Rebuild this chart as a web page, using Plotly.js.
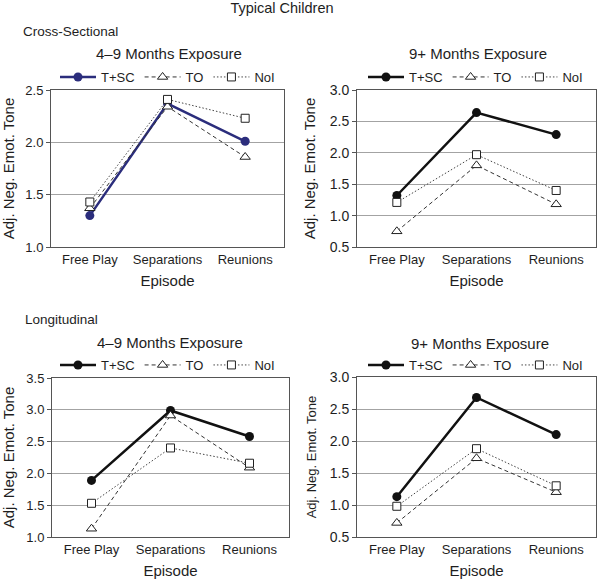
<!DOCTYPE html>
<html>
<head>
<meta charset="utf-8">
<script src="https://cdn.plot.ly/plotly-3.0.1.min.js"></script>
<style>html,body{margin:0;padding:0;background:#fff;}#chart{width:600px;height:580px;}</style>
</head>
<body>
<div id="chart"></div>
<script>
// ---- data ----
const episodes = ['Free Play', 'Separations', 'Reunions'];
const groupNames = ['T+SC', 'TO', 'NoI'];

// Cross-sectional, 4–9 months exposure
const csEarlyTSC = [1.30, 2.37, 2.01];
const csEarlyTO  = [1.37, 2.34, 1.86];
const csEarlyNoI = [1.43, 2.41, 2.23];
// Cross-sectional, 9+ months exposure
const csLateTSC = [1.32, 2.64, 2.29];
const csLateTO  = [0.75, 1.80, 1.18];
const csLateNoI = [1.21, 1.97, 1.40];
// Longitudinal, 4–9 months exposure
const lgEarlyTSC = [1.89, 2.99, 2.58];
const lgEarlyTO  = [1.13, 2.91, 2.09];
const lgEarlyNoI = [1.53, 2.40, 2.16];
// Longitudinal, 9+ months exposure
const lgLateTSC = [1.13, 2.68, 2.10];
const lgLateTO  = [0.72, 1.73, 1.20];
const lgLateNoI = [0.98, 1.88, 1.30];

const panelTitles = ['4–9 Months Exposure', '9+ Months Exposure', '4–9 Months Exposure', '9+ Months Exposure'];
const sectionTitles = ['Cross-Sectional', 'Longitudinal'];
const mainTitle = 'Typical Children';
const yTitle = 'Adj. Neg. Emot. Tone';
const xTitle = 'Episode';

// ---- build ----
const FONT = 'Liberation Sans, Arial, sans-serif';
const TXT = '#1e1e1e';
const panels = [
  {sets: [csEarlyTSC, csEarlyTO, csEarlyNoI], tscColor: '#2b2d7c', yr: [1.0, 2.5]},
  {sets: [csLateTSC, csLateTO, csLateNoI], tscColor: '#111', yr: [0.5, 3.0]},
  {sets: [lgEarlyTSC, lgEarlyTO, lgEarlyNoI], tscColor: '#111', yr: [1.0, 3.5]},
  {sets: [lgLateTSC, lgLateTO, lgLateNoI], tscColor: '#111', yr: [0.5, 3.0]}
];

const traces = [];
panels.forEach((p, i) => {
  const n = i === 0 ? '' : String(i + 1);
  const styles = [
    {line: {color: p.tscColor, width: 2.5, dash: 'solid'}, marker: {symbol: 'circle', size: 9, color: p.tscColor}},
    {line: {color: '#333', width: 1, dash: '4px,3px'}, marker: {symbol: 'triangle-up', size: 9, color: '#fff', line: {color: '#222', width: 1}}},
    {line: {color: '#444', width: 1, dash: '1.5px,2px'}, marker: {symbol: 'square', size: 8, color: '#fff', line: {color: '#222', width: 1}}}
  ];
  p.sets.forEach((vals, k) => {
    traces.push({
      type: 'scatter', mode: 'lines+markers',
      x: episodes, y: vals, name: groupNames[k],
      xaxis: 'x' + n, yaxis: 'y' + n,
      legend: 'legend' + n,
      line: styles[k].line, marker: styles[k].marker,
      hoverinfo: 'x+y+name'
    });
  });
});

const W = 600, H = 580;
// plot-area boxes in px: [left, right, top, bottom]
const boxes = [[51, 284, 90, 247], [357, 596, 90, 247], [52, 289, 378, 537], [357, 596, 377, 537]];
const yTickSize = [13, 14, 13, 14];
const yTitleSize = [15, 15, 15, 13];

const layout = {
  width: W, height: H,
  margin: {l: 0, r: 0, t: 0, b: 0},
  paper_bgcolor: '#fff', plot_bgcolor: '#fff',
  font: {family: FONT, color: TXT, size: 13},
  title: {text: mainTitle, x: 282 / W, xanchor: 'center', y: 1 - 8 / H, yanchor: 'middle', yref: 'container', font: {size: 14.5, color: TXT}},
  annotations: [],
  hovermode: 'closest'
};

boxes.forEach((b, i) => {
  const n = i === 0 ? '' : String(i + 1);
  const p = panels[i];
  layout['xaxis' + n] = {
    domain: [b[0] / W, b[1] / W],
    anchor: 'y' + n,
    type: 'category', range: [-0.5, 2.5],
    showline: true, mirror: true, linecolor: '#555', linewidth: 1,
    showgrid: false, ticks: '', zeroline: false,
    tickfont: {size: 13, color: TXT},
    title: {text: xTitle, font: {size: 15, color: TXT}, standoff: 9}
  };
  layout['yaxis' + n] = {
    domain: [1 - b[3] / H, 1 - b[2] / H],
    anchor: 'x' + n,
    range: p.yr, dtick: 0.5, tick0: 0, tickformat: '.1f',
    showline: true, mirror: true, linecolor: '#555', linewidth: 1,
    showgrid: true, gridcolor: '#a3a3a3', gridwidth: 1, zeroline: false,
    ticks: 'outside', ticklen: 4, tickcolor: '#555',
    tickfont: {size: yTickSize[i], color: TXT},
    title: {text: yTitle, font: {size: yTitleSize[i], color: TXT}, standoff: 10}
  };
});

const legendPos = [[55, 77], [363, 77], [55, 365], [363, 365]];
legendPos.forEach((lp, i) => {
  const n = i === 0 ? '' : String(i + 1);
  layout['legend' + n] = {
    orientation: 'h', x: lp[0] / W, xanchor: 'left', y: 1 - lp[1] / H, yanchor: 'middle',
    bgcolor: 'rgba(0,0,0,0)', borderwidth: 0, itemwidth: 36,
    font: {size: 13, color: TXT}, tracegroupgap: 0
  };
});

const subTitlePos = [[169, 53], [478, 53], [170, 342], [480, 343]];
subTitlePos.forEach((sp, i) => {
  layout.annotations.push({
    text: panelTitles[i], xref: 'paper', yref: 'paper',
    x: sp[0] / W, y: 1 - sp[1] / H, xanchor: 'center', yanchor: 'middle',
    showarrow: false, font: {size: 15, color: TXT}
  });
});
const sectionPos = [[21, 31], [23, 319]];
sectionPos.forEach((sp, i) => {
  layout.annotations.push({
    text: sectionTitles[i], xref: 'paper', yref: 'paper',
    x: sp[0] / W, y: 1 - sp[1] / H, xanchor: 'left', yanchor: 'middle',
    showarrow: false, font: {size: 13.5, color: TXT}
  });
});

Plotly.newPlot('chart', traces, layout, {displayModeBar: false, responsive: false});
</script>
</body>
</html>
